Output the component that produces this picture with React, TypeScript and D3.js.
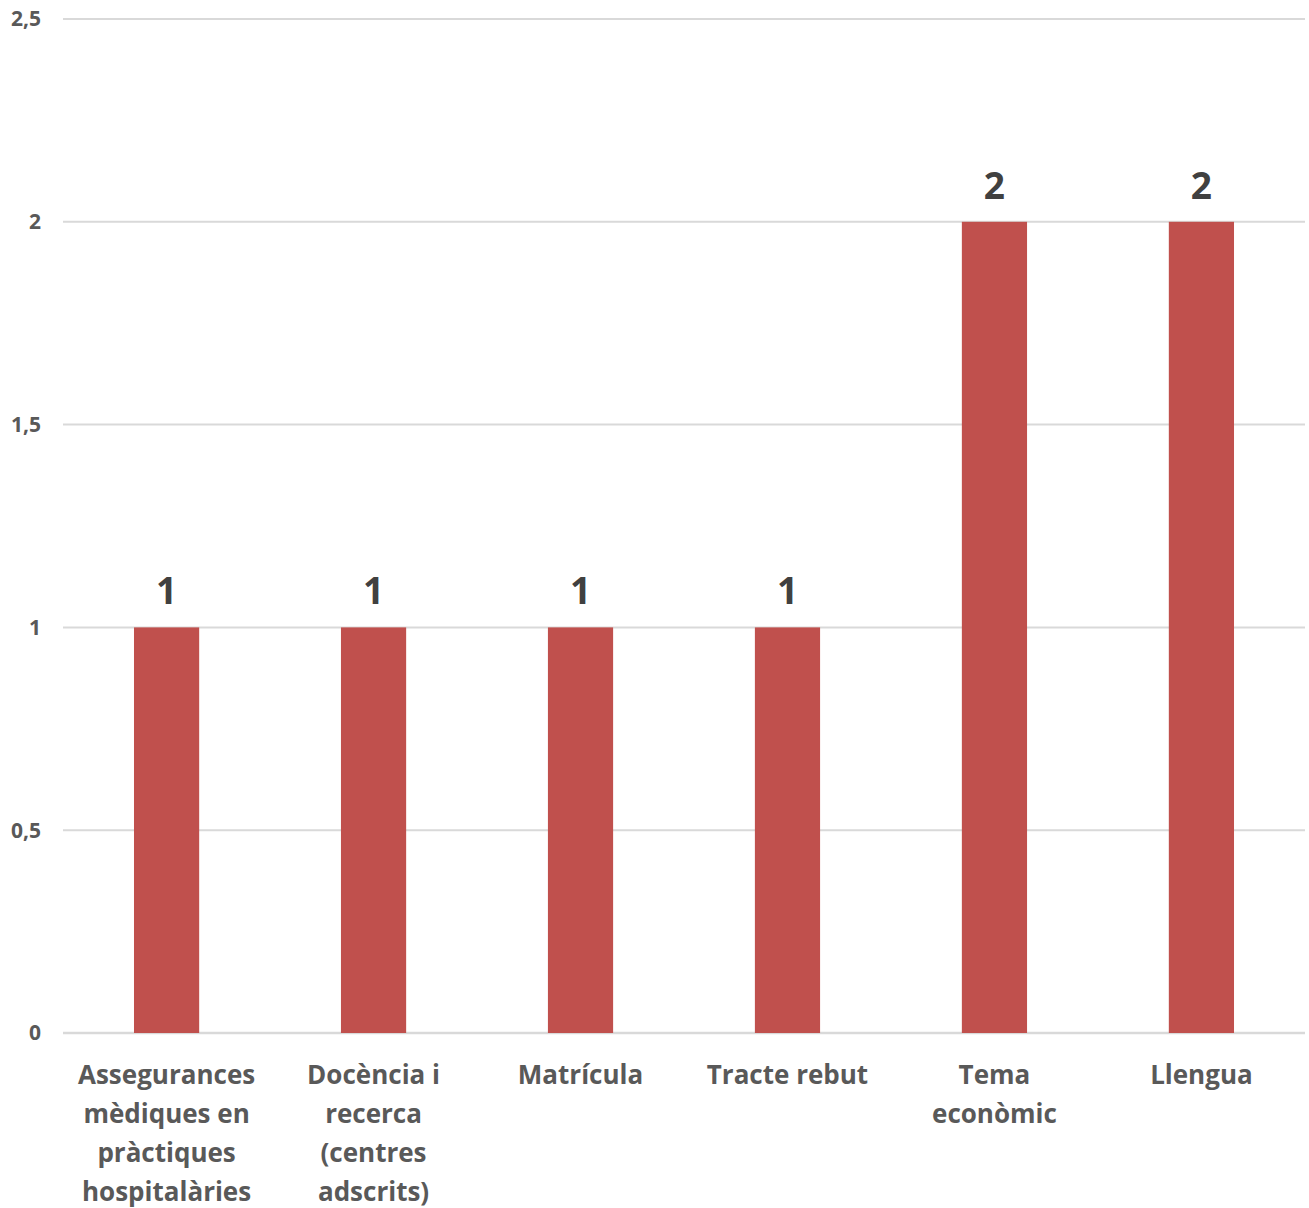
import * as d3 from 'd3';
import { useEffect, useRef } from 'react';

// category labels, already broken into lines the way they appear
const categories = [
  ['Assegurances', 'mèdiques en', 'pràctiques', 'hospitalàries'],
  ['Docència i', 'recerca', '(centres', 'adscrits)'],
  ['Matrícula'],
  ['Tracte rebut'],
  ['Tema', 'econòmic'],
  ['Llengua'],
];
const values = [1, 1, 1, 1, 2, 2];
const yTicks = [0, 0.5, 1, 1.5, 2, 2.5];

export default function App() {
  const ref = useRef<SVGSVGElement>(null);

  useEffect(() => {
    const W = 1309;
    const H = 1208;
    const M = { top: 19, right: 4, bottom: 175, left: 63 };
    const font = '"Open Sans", Lato, sans-serif';

    const svg = d3.select(ref.current);
    svg.selectAll('*').remove();

    const x = d3
      .scaleBand<number>()
      .domain(values.map((_, i) => i))
      .range([M.left, W - M.right])
      .paddingInner(0.685)
      .paddingOuter(0.343);
    const y = d3.scaleLinear().domain([0, 2.5]).range([H - M.bottom, M.top]);

    // gridlines
    svg
      .append('g')
      .selectAll('line')
      .data(yTicks)
      .join('line')
      .attr('x1', M.left)
      .attr('x2', W - M.right)
      .attr('y1', (d) => y(d))
      .attr('y2', (d) => y(d))
      .attr('stroke', '#d9d9d9')
      .attr('stroke-width', (d) => (d === 0 ? 2.5 : 2));

    // tick labels
    const fmt = (d: number) => String(d).replace('.', ',');
    svg
      .append('g')
      .selectAll('text')
      .data(yTicks)
      .join('text')
      .attr('x', 41)
      .attr('y', (d) => y(d))
      .attr('dy', '0.35em')
      .attr('text-anchor', 'end')
      .attr('font-family', font)
      .attr('font-weight', 700)
      .attr('font-size', 21)
      .attr('fill', '#595959')
      .text(fmt);

    // bars
    svg
      .append('g')
      .selectAll('rect')
      .data(values)
      .join('rect')
      .attr('x', (_, i) => x(i)!)
      .attr('width', x.bandwidth())
      .attr('y', (d) => y(d))
      .attr('height', (d) => y(0) - y(d))
      .attr('fill', '#c0504d');

    // value labels
    svg
      .append('g')
      .selectAll('text')
      .data(values)
      .join('text')
      .attr('x', (_, i) => x(i)! + x.bandwidth() / 2)
      .attr('y', (d) => y(d) - 23)
      .attr('text-anchor', 'middle')
      .attr('font-family', font)
      .attr('font-weight', 700)
      .attr('font-size', 37)
      .attr('fill', '#404040')
      .text((d) => d);

    // category labels
    const cat = svg
      .append('g')
      .selectAll('text')
      .data(categories)
      .join('text')
      .attr('x', (_, i) => x(i)! + x.bandwidth() / 2)
      .attr('y', y(0) + 51)
      .attr('text-anchor', 'middle')
      .attr('font-family', font)
      .attr('font-weight', 700)
      .attr('font-size', 26)
      .attr('fill', '#595959');
    cat
      .selectAll('tspan')
      .data((d) => d)
      .join('tspan')
      .attr('x', function () {
        return (this.parentNode as SVGTextElement).getAttribute('x');
      })
      .attr('dy', (_, j) => (j === 0 ? 0 : 39))
      .text((d) => d);
  }, []);

  return (
    <svg
      ref={ref}
      width={1309}
      height={1208}
      style={{ position: 'absolute', left: 0, top: 0, background: '#fff' }}
    />
  );
}
